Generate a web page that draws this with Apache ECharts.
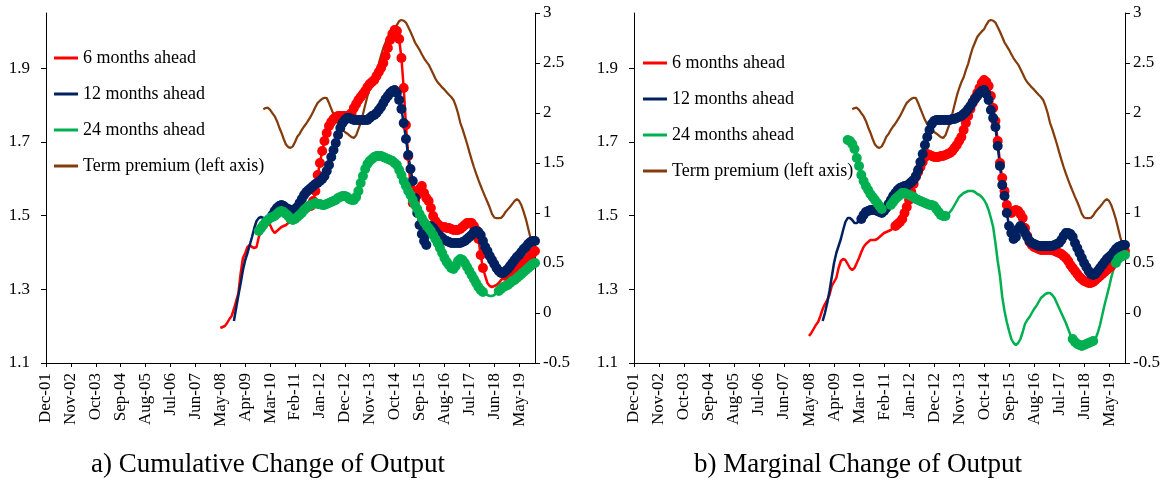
<!DOCTYPE html>
<html>
<head>
<meta charset="utf-8">
<script src="https://cdn.jsdelivr.net/npm/echarts@6.0.0/dist/echarts.min.js"></script>
<style>
  html, body { margin: 0; padding: 0; background: #fff; }
  #chart { width: 1175px; height: 483px; }
</style>
</head>
<body>
<div id="chart"></div>
<script>
// monthly categories Dec-01 .. Dec-19
const monthNames = ['Jan', 'Feb', 'Mar', 'Apr', 'May', 'Jun', 'Jul', 'Aug', 'Sep', 'Oct', 'Nov', 'Dec'];
const categories = [];
for (let i = 0; i < 217; i++) {
  const m = (11 + i) % 12;
  const y = 1 + Math.floor((11 + i) / 12);
  categories.push(monthNames[m] + '-' + String(y).padStart(2, '0'));
}

const leftTicks = [1.1, 1.3, 1.5, 1.7, 1.9];
const names = ['6 months ahead', '12 months ahead', '24 months ahead', 'Term premium (left axis)'];
const titles = ['a) Cumulative Change of Output', 'b) Marginal Change of Output'];

// term premium, starts Dec-09 (index 96), left axis
const termStart = 96;
const termPremium = [
  1.789, 1.792, 1.793, 1.787, 1.778, 1.770, 1.757, 1.740, 1.725, 1.708,
  1.693, 1.686, 1.684, 1.688, 1.700, 1.714, 1.722, 1.733, 1.742, 1.750,
  1.760, 1.770, 1.782, 1.795, 1.806, 1.812, 1.817, 1.820, 1.819, 1.806,
  1.790, 1.775, 1.760, 1.748, 1.740, 1.733, 1.727, 1.723, 1.718, 1.713,
  1.711, 1.718, 1.735, 1.752, 1.775, 1.800, 1.825, 1.845, 1.862, 1.875,
  1.895, 1.912, 1.935, 1.955, 1.970, 1.985, 1.993, 2.000, 2.006, 2.018,
  2.028, 2.031, 2.029, 2.024, 2.012, 1.999, 1.985, 1.970, 1.960, 1.950,
  1.938, 1.927, 1.918, 1.910, 1.898, 1.885, 1.872, 1.862, 1.855, 1.848,
  1.842, 1.835, 1.828, 1.822, 1.814, 1.798, 1.778, 1.752, 1.735, 1.715,
  1.695, 1.673, 1.652, 1.632, 1.614, 1.597, 1.581, 1.566, 1.551, 1.537,
  1.522, 1.505, 1.495, 1.493, 1.493, 1.494, 1.500, 1.510, 1.517, 1.524,
  1.532, 1.540, 1.545, 1.540, 1.528, 1.510, 1.490, 1.465, 1.440, 1.420,
  1.405
];

// a) cumulative change, starts May-08 (77), Nov-08 (83), Oct-09 (94)
const start6 = 77, start12 = 83, start24 = 94;
const cum6 = [
  -0.15, -0.14, -0.13, -0.10, -0.06, -0.03, 0.04, 0.12, 0.20, 0.40,
  0.55, 0.60, 0.66, 0.68, 0.66, 0.65, 0.66, 0.76, 0.82, 0.84,
  0.87, 0.89, 0.88, 0.83, 0.80, 0.82, 0.84, 0.86, 0.87, 0.88,
  0.90, 0.92, 0.95, 0.97, 0.98, 1.00, 1.01, 1.03, 1.04, 1.06,
  1.07, 1.12, 1.22, 1.38, 1.50, 1.62, 1.72, 1.80, 1.87, 1.91,
  1.94, 1.96, 1.97, 1.97, 1.97, 1.97, 1.97, 1.98, 2.00, 2.05,
  2.09, 2.13, 2.16, 2.19, 2.22, 2.26, 2.29, 2.31, 2.33, 2.37,
  2.41, 2.45, 2.50, 2.57, 2.65, 2.73, 2.79, 2.83, 2.82, 2.74,
  2.55, 2.25, 1.88, 1.57, 1.25, 1.10, 1.12, 1.18, 1.24, 1.27,
  1.20, 1.15, 1.12, 1.05, 0.97, 0.92, 0.89, 0.87, 0.86, 0.86,
  0.85, 0.85, 0.84, 0.83, 0.83, 0.83, 0.84, 0.86, 0.88, 0.90,
  0.90, 0.90, 0.87, 0.83, 0.74, 0.58, 0.45, 0.37, 0.30, 0.27,
  0.26, 0.27, 0.28, 0.30, 0.33, 0.35, 0.37, 0.38, 0.40, 0.41,
  0.43, 0.44, 0.46, 0.48, 0.50, 0.52, 0.54, 0.57, 0.60, 0.62
];
const cum12 = [
  -0.08, 0.05, 0.18, 0.30, 0.43, 0.53, 0.60, 0.68, 0.76, 0.85,
  0.92, 0.95, 0.96, 0.95, 0.93, 0.92, 0.94, 0.98, 1.02, 1.05,
  1.07, 1.08, 1.07, 1.05, 1.04, 1.03, 1.03, 1.04, 1.06, 1.10,
  1.14, 1.18, 1.21, 1.23, 1.25, 1.27, 1.29, 1.30, 1.32, 1.34,
  1.37, 1.42, 1.48, 1.56, 1.63, 1.70, 1.78, 1.85, 1.90, 1.93,
  1.95, 1.95, 1.94, 1.93, 1.93, 1.93, 1.93, 1.93, 1.93, 1.93,
  1.95, 1.97, 1.98, 2.00, 2.03, 2.06, 2.10, 2.14, 2.17, 2.20,
  2.22, 2.23, 2.20, 2.13, 2.04, 1.90, 1.74, 1.58, 1.44, 1.32,
  1.15, 1.00, 0.88, 0.79, 0.72, 0.68, 0.80, 0.87, 0.85, 0.82,
  0.79, 0.77, 0.75, 0.73, 0.72, 0.71, 0.70, 0.70, 0.70, 0.70,
  0.70, 0.71, 0.72, 0.74, 0.76, 0.78, 0.81, 0.82, 0.81, 0.78,
  0.72, 0.66, 0.62, 0.57, 0.53, 0.49, 0.45, 0.42, 0.40, 0.40,
  0.42, 0.44, 0.47, 0.50, 0.53, 0.56, 0.58, 0.61, 0.64, 0.66,
  0.69, 0.71, 0.72, 0.72
];
const cum24 = [
  0.82, 0.85, 0.88, 0.91, 0.93, 0.95, 0.96, 0.97, 0.99, 1.01,
  1.02, 1.01, 0.99, 0.97, 0.94, 0.93, 0.94, 0.96, 0.98, 1.00,
  1.03, 1.05, 1.07, 1.08, 1.09, 1.10, 1.09, 1.09, 1.08, 1.08,
  1.09, 1.10, 1.11, 1.12, 1.13, 1.15, 1.16, 1.17, 1.17, 1.16,
  1.14, 1.13, 1.13, 1.16, 1.22, 1.30, 1.37, 1.44, 1.49, 1.52,
  1.54, 1.56, 1.57, 1.57, 1.57, 1.56, 1.55, 1.54, 1.53, 1.52,
  1.50, 1.48, 1.43, 1.38, 1.32, 1.27, 1.22, 1.18, 1.13, 1.08,
  1.04, 0.99, 0.95, 0.91, 0.88, 0.85, 0.82, 0.78, 0.74, 0.70,
  0.65, 0.60, 0.55, 0.51, 0.48, 0.45, 0.44, 0.47, 0.52, 0.54,
  0.53, 0.50, 0.46, 0.42, 0.38, 0.34, 0.30, 0.26, 0.23, 0.21,
  0.19, 0.18, 0.17, 0.17, 0.18, 0.20, 0.22, 0.24, 0.26, 0.27,
  0.28, 0.30, 0.32, 0.33, 0.35, 0.37, 0.39, 0.41, 0.43, 0.45,
  0.47, 0.49, 0.50
];

// b) marginal change
const marg6 = [
  -0.23, -0.20, -0.16, -0.12, -0.09, -0.03, 0.04, 0.09, 0.13, 0.18,
  0.27, 0.31, 0.35, 0.45, 0.52, 0.54, 0.53, 0.49, 0.45, 0.43,
  0.45, 0.50, 0.55, 0.61, 0.66, 0.69, 0.71, 0.73, 0.73, 0.73,
  0.74, 0.76, 0.78, 0.80, 0.81, 0.82, 0.83, 0.85, 0.87, 0.89,
  0.91, 0.94, 1.00, 1.06, 1.13, 1.21, 1.29, 1.36, 1.41, 1.46,
  1.51, 1.56, 1.59, 1.58, 1.57, 1.56, 1.56, 1.56, 1.57, 1.57,
  1.58, 1.59, 1.60, 1.62, 1.65, 1.68, 1.72, 1.76, 1.83, 1.90,
  1.97, 2.04, 2.10, 2.15, 2.20, 2.25, 2.30, 2.33, 2.31, 2.27,
  2.17, 2.05, 1.92, 1.72, 1.50, 1.35, 1.22, 1.08, 1.02, 1.00,
  1.02, 1.03, 1.02, 0.99, 0.95, 0.85, 0.77, 0.71, 0.68, 0.66,
  0.65, 0.64, 0.63, 0.63, 0.63, 0.63, 0.63, 0.63, 0.62, 0.61,
  0.60, 0.59, 0.57, 0.55, 0.52, 0.48, 0.45, 0.42, 0.39, 0.36,
  0.34, 0.32, 0.31, 0.30, 0.30, 0.31, 0.33, 0.35, 0.37, 0.39,
  0.41, 0.43, 0.45, 0.47, 0.50, 0.53, 0.56, 0.58, 0.60, 0.62
];
const marg12 = [
  -0.08, 0.00, 0.10, 0.22, 0.36, 0.50, 0.60, 0.67, 0.74, 0.83,
  0.91, 0.95, 0.95, 0.93, 0.90, 0.90, 0.92, 0.94, 0.98, 1.01,
  1.02, 1.03, 1.03, 1.03, 1.02, 1.01, 1.00, 1.02, 1.05, 1.09,
  1.13, 1.17, 1.20, 1.23, 1.25, 1.26, 1.27, 1.27, 1.29, 1.31,
  1.33, 1.37, 1.43, 1.51, 1.59, 1.68, 1.76, 1.83, 1.89, 1.92,
  1.93, 1.93, 1.93, 1.93, 1.93, 1.93, 1.93, 1.94, 1.94, 1.95,
  1.96, 1.97, 1.99, 2.01, 2.04, 2.07, 2.11, 2.14, 2.17, 2.20,
  2.22, 2.23, 2.19, 2.13, 2.03, 1.95, 1.86, 1.67, 1.47, 1.28,
  1.17, 1.00, 0.87, 0.80, 0.74, 0.76, 0.84, 0.87, 0.84, 0.80,
  0.76, 0.72, 0.70, 0.69, 0.68, 0.67, 0.67, 0.67, 0.67, 0.67,
  0.67, 0.67, 0.68, 0.69, 0.70, 0.73, 0.77, 0.80, 0.80, 0.79,
  0.76, 0.70, 0.65, 0.60, 0.55, 0.50, 0.46, 0.42, 0.39, 0.38,
  0.39, 0.42, 0.45, 0.48, 0.51, 0.54, 0.56, 0.58, 0.61, 0.64,
  0.66, 0.67, 0.68, 0.68
];
const marg24 = [
  1.73, 1.72, 1.69, 1.64, 1.55, 1.47, 1.38, 1.32, 1.27, 1.23,
  1.19, 1.16, 1.13, 1.10, 1.07, 1.04, 1.03, 1.03, 1.05, 1.08,
  1.11, 1.14, 1.16, 1.18, 1.20, 1.20, 1.19, 1.18, 1.17, 1.16,
  1.14, 1.13, 1.12, 1.11, 1.10, 1.09, 1.08, 1.08, 1.07, 1.04,
  1.01, 0.98, 0.97, 0.97, 0.99, 1.01, 1.04, 1.08, 1.12, 1.16,
  1.18, 1.20, 1.21, 1.22, 1.22, 1.22, 1.21, 1.19, 1.18, 1.16,
  1.13, 1.09, 1.03, 0.95, 0.86, 0.70, 0.52, 0.37, 0.16, 0.02,
  -0.09, -0.18, -0.26, -0.30, -0.32, -0.30, -0.26, -0.19, -0.11, -0.07,
  -0.04, 0.00, 0.04, 0.07, 0.11, 0.15, 0.17, 0.19, 0.20, 0.20,
  0.18, 0.15, 0.10, 0.05, 0.00, -0.05, -0.10, -0.16, -0.22, -0.26,
  -0.29, -0.31, -0.32, -0.33, -0.32, -0.31, -0.30, -0.29, -0.28, -0.26,
  -0.20, -0.12, -0.02, 0.08, 0.17, 0.26, 0.36, 0.44, 0.50, 0.54,
  0.56, 0.57, 0.58
];

// month ranges where the estimates carry markers
const dots6a = [[117, 193], [203, 216]];
const dots12a = [[100, 216]];
const dots24a = [[94, 193], [200, 216]];
const dots6b = [[115, 216]];
const dots12b = [[100, 216]];
const dots24b = [[94, 109], [113, 137], [193, 202], [212, 216]];

const colors = ['#ff0000', '#002060', '#00b050', '#843c0c'];
const font = '"Liberation Serif", "Times New Roman", serif';

const pad = (start, arr) => Array(start).fill(null).concat(arr);
const mask = (full, ranges) => full.map((v, i) => ranges.some(r => i >= r[0] && i <= r[1]) ? v : null);

const panels = [
  { s6: pad(start6, cum6), s12: pad(start12, cum12), s24: pad(start24, cum24), d6: dots6a, d12: dots12a, d24: dots24a },
  { s6: pad(start6, marg6), s12: pad(start12, marg12), s24: pad(start24, marg24), d6: dots6b, d12: dots12b, d24: dots24b }
];
const term = pad(termStart, termPremium);

const grids = [
  { left: 46, right: 640, top: 13, bottom: 120 },
  { left: 634, right: 50, top: 13, bottom: 120 }
];

const labelStyle = { color: '#000', fontFamily: font, fontSize: 17 };
const axisLineStyle = { show: true, onZero: false, lineStyle: { color: '#000', width: 1 } };

const xAxes = grids.map((g, i) => ({
  type: 'category',
  gridIndex: i,
  data: categories,
  boundaryGap: false,
  axisLine: axisLineStyle,
  axisTick: { show: true, interval: 10, length: 4, lineStyle: { color: '#000' } },
  axisLabel: Object.assign({ interval: 10, rotate: 90, margin: 10 }, labelStyle),
  splitLine: { show: false }
}));

const yAxes = [];
grids.forEach((g, i) => {
  yAxes.push({
    type: 'value', gridIndex: i, position: 'left',
    min: 1.1, max: 2.05, interval: 0.2,
    axisLine: axisLineStyle,
    axisTick: { show: true, length: 5, customValues: leftTicks, lineStyle: { color: '#000' } },
    axisLabel: Object.assign({ customValues: leftTicks, margin: 16,
      formatter: v => v.toFixed(1) }, labelStyle),
    splitLine: { show: false }
  });
  yAxes.push({
    type: 'value', gridIndex: i, position: 'right',
    min: -0.5, max: 3, interval: 0.5,
    axisLine: axisLineStyle,
    axisTick: { show: true, length: 5, lineStyle: { color: '#000' } },
    axisLabel: Object.assign({ margin: 8, formatter: v => String(v) }, labelStyle),
    splitLine: { show: false }
  });
});

function lineSeries(name, data, color, p, y, width) {
  return {
    name, type: 'line', xAxisIndex: p, yAxisIndex: y, data,
    symbol: 'none', showSymbol: false, connectNulls: false,
    lineStyle: { color, width }, itemStyle: { color },
    emphasis: { disabled: true }, silent: true
  };
}
function dotSeries(name, data, color, p, y) {
  return {
    name, type: 'line', xAxisIndex: p, yAxisIndex: y, data,
    symbol: 'circle', symbolSize: 10, showSymbol: true, showAllSymbol: true,
    lineStyle: { opacity: 0, width: 1 }, itemStyle: { color },
    emphasis: { disabled: true }, silent: true
  };
}

const series = [];
panels.forEach((pd, p) => {
  const right = 2 * p + 1, left = 2 * p;
  series.push(lineSeries(names[0], pd.s6, colors[0], p, right, 2.5));
  series.push(dotSeries(names[0], mask(pd.s6, pd.d6), colors[0], p, right));
  series.push(lineSeries(names[1], pd.s12, colors[1], p, right, 2.5));
  series.push(dotSeries(names[1], mask(pd.s12, pd.d12), colors[1], p, right));
  series.push(lineSeries(names[2], pd.s24, colors[2], p, right, 2.5));
  series.push(dotSeries(names[2], mask(pd.s24, pd.d24), colors[2], p, right));
  series.push(lineSeries(names[3], term, colors[3], p, left, 2.25));
});

const legendBase = {
  data: names, orient: 'vertical', icon: 'rect',
  itemWidth: 24, itemHeight: 3, itemGap: 18, selectedMode: false,
  textStyle: { color: '#000', fontFamily: font, fontSize: 18 }
};

const option = {
  animation: false,
  backgroundColor: '#fff',
  grid: grids,
  xAxis: xAxes,
  yAxis: yAxes,
  legend: [
    Object.assign({ left: 49, top: 44 }, legendBase),
    Object.assign({ left: 638, top: 49 }, legendBase)
  ],
  graphic: [
    { type: 'text', x: 268, y: 465, style: { text: titles[0], fill: '#000', fontFamily: font, fontSize: 27, align: 'center', verticalAlign: 'middle' } },
    { type: 'text', x: 858, y: 465, style: { text: titles[1], fill: '#000', fontFamily: font, fontSize: 27, align: 'center', verticalAlign: 'middle' } }
  ],
  series
};

const chart = echarts.init(document.getElementById('chart'));
chart.setOption(option);
</script>
</body>
</html>
